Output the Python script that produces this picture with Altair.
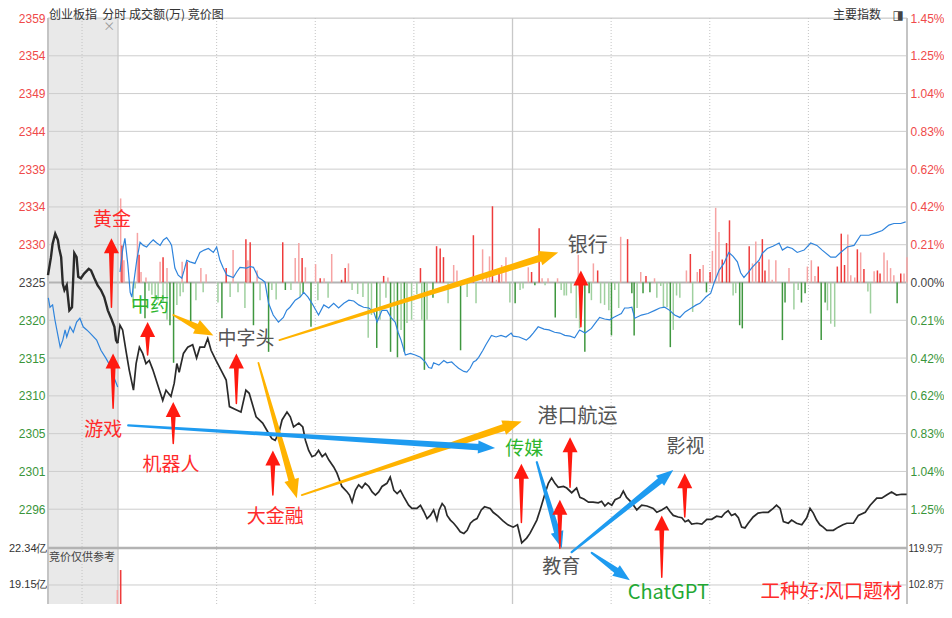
import math
import altair as alt
import pandas as pd

# ---------------- values ----------------
PREV_CLOSE = 2324.76      # 0.00 % line of 创业板指
STEP = 4.828              # one grid step (~0.21 %)

# x = minutes after 9:30 (0..240, 11:30 and 13:00 meet at 120);
# negative minutes = the 9:15-9:25 call-auction strip
X_MIN, X_MAX = -21.3, 240.0
auction_span = [X_MIN, 0.0]

# black line: 创业板指
idx_min = [
    -21.3, -20.4, -19.9, -19.1, -18.3, -17.9, -17.3, -16.8, -16.3, -15.6,
    -14.8, -14.0, -13.3, -12.6, -12.1, -11.3, -10.3, -8.9, -8.2, -7.2,
    -6.2, -5.2, -4.2, -3.1, -2.1, -1.1, -0.6, -0.1,
    0.6, 1.4, 2.4, 3.4, 4.7, 5.5, 6.5, 7.5, 8.5, 9.5,
    10.6, 12.6, 13.6, 14.6, 16.1, 17.1, 17.9, 18.6, 19.9, 21.2,
    22.7, 23.9, 24.9, 26.3, 27.3, 28.3, 29.8, 31.3, 32.9, 33.9,
    35.9, 37.4, 38.9, 39.9, 42.0, 44.0, 45.8, 46.8, 47.8, 48.9,
    49.9, 51.4, 52.4, 53.4, 55.0, 56.2, 57.0, 58.0, 59.0, 60.0,
    61.0, 62.1, 63.1, 64.1, 65.6, 66.6, 68.1, 69.7, 70.4, 71.2,
    72.2, 73.2, 74.2, 75.2, 76.3, 77.3, 78.3, 79.3, 80.3, 81.8,
    82.8, 83.9, 84.9, 85.9, 86.9, 88.4, 89.4, 90.9, 92.0, 93.0,
    94.0, 95.0, 96.0, 97.0, 97.7, 98.6, 99.4, 100.1, 101.1, 102.1,
    103.1, 104.1, 105.2, 106.2, 107.2, 108.2, 109.2, 110.5, 111.5, 113.2,
    114.1, 115.6, 117.1, 118.6, 120.2, 121.5, 122.8, 124.3, 125.3, 126.3,
    127.4, 128.4, 129.9, 130.9, 131.9, 132.9, 133.9, 135.5, 136.5, 138.0,
    139.5, 140.5, 141.7, 143.1, 144.5, 146.1, 147.1, 148.1, 149.1, 150.2,
    151.2, 152.7, 153.7, 154.7, 156.3, 157.8, 159.3, 160.9, 162.8, 163.9,
    165.4, 166.9, 167.9, 168.9, 170.4, 171.5, 172.5, 173.5, 174.5, 176.1,
    177.6, 179.1, 180.6, 182.1, 183.6, 184.6, 185.6, 186.6, 187.7, 188.7,
    189.7, 190.7, 191.7, 193.2, 194.7, 196.3, 197.8, 199.3, 200.3, 201.4,
    202.4, 203.9, 204.9, 206.4, 208.0, 209.5, 210.5, 211.5, 212.5, 213.5,
    214.5, 215.6, 217.6, 219.1, 220.5, 221.7, 223.7, 225.2, 227.3, 228.8,
    230.8, 232.3, 233.8, 235.3, 236.8, 238.4, 239.9,
]
idx_val = [
    2325.7, 2328.0, 2329.7, 2331.0, 2330.2, 2329.1, 2328.0, 2324.6, 2323.8, 2324.4,
    2321.2, 2321.6, 2328.5, 2328.0, 2325.5, 2325.3, 2325.9, 2326.5, 2326.3, 2325.3,
    2324.4, 2323.8, 2322.9, 2321.2, 2320.2, 2319.1, 2317.4, 2317.0,
    2319.3, 2318.7, 2316.1, 2313.6, 2311.0, 2314.4, 2316.5, 2315.7, 2314.4, 2314.8,
    2313.6, 2311.0, 2309.7, 2311.0, 2310.2, 2311.9, 2314.4, 2313.3, 2315.7, 2316.5,
    2316.8, 2315.1, 2316.5, 2316.5, 2317.6, 2316.1, 2314.8, 2313.6, 2312.3, 2308.9,
    2308.5, 2308.2, 2311.0, 2310.6, 2307.6, 2306.8, 2305.5, 2304.8, 2304.6, 2305.5,
    2307.2, 2308.2, 2307.6, 2306.3, 2306.8, 2306.3, 2304.6, 2303.3, 2302.5, 2302.7,
    2303.3, 2302.5, 2302.9, 2302.1, 2301.2, 2300.4, 2298.7, 2298.0, 2297.6, 2296.7,
    2298.2, 2298.9, 2298.5, 2299.1, 2298.7, 2298.0, 2297.6, 2298.0, 2298.7, 2299.1,
    2299.9, 2298.2, 2297.8, 2298.2, 2297.4, 2296.3, 2295.9, 2295.9, 2296.3, 2295.5,
    2294.6, 2295.0, 2295.7, 2294.4, 2295.7, 2296.5, 2296.1, 2295.0, 2294.4, 2294.0,
    2293.5, 2292.9, 2292.7, 2293.1, 2294.0, 2294.4, 2294.6, 2295.7, 2296.1, 2295.9,
    2295.4, 2294.9, 2294.3, 2293.8, 2293.5, 2293.8, 2291.5, 2292.1, 2292.7, 2293.5,
    2294.4, 2295.7, 2297.8, 2299.1, 2299.8, 2299.1, 2298.6, 2298.7, 2298.5, 2297.9,
    2298.5, 2297.3, 2297.1, 2296.7, 2296.7, 2296.6, 2296.8, 2296.2, 2296.6, 2296.3,
    2297.0, 2297.3, 2298.1, 2297.3, 2296.6, 2295.7, 2296.3, 2296.2, 2295.9, 2295.4,
    2295.7, 2296.1, 2295.5, 2295.0, 2294.8, 2294.7, 2294.2, 2294.4, 2293.9, 2294.0,
    2293.9, 2294.5, 2294.5, 2294.9, 2294.8, 2295.3, 2295.6, 2295.0, 2295.2, 2294.7,
    2293.5, 2293.4, 2294.0, 2294.8, 2295.3, 2295.4, 2295.4, 2295.9, 2296.3, 2295.9,
    2294.2, 2294.0, 2294.4, 2294.0, 2293.8, 2294.7, 2295.9, 2295.3, 2294.4, 2293.8,
    2293.5, 2293.1, 2293.1, 2293.5, 2293.8, 2294.0, 2294.0, 2295.0, 2295.4, 2296.3,
    2297.2, 2297.2, 2297.6, 2298.0, 2297.6, 2297.7, 2297.7,
]

# blue line: overlay index, drawn on the same percentage scale
ovl_min = [
    -21.2, -20.7, -19.9, -19.2, -18.2, -17.6, -16.8, -16.1, -15.6, -14.6,
    -13.6, -12.6, -11.6, -10.6, -9.5, -8.5, -6.5, -5.2, -3.7, -2.1, -1.1, -0.1,
    0.6, 1.4, 2.1, 3.0, 3.7, 4.2, 4.9, 5.7, 6.7, 7.7,
    8.7, 9.7, 10.7, 11.8, 12.8, 13.8, 14.8, 15.8, 16.3, 17.3,
    18.3, 19.4, 20.1, 20.9, 21.9, 23.4, 24.9, 26.2, 27.5, 29.0,
    30.0, 31.0, 32.0, 33.1, 35.1, 36.1, 37.1, 39.1, 40.2, 41.2,
    42.7, 43.8, 44.7, 45.8, 47.2, 48.8, 50.3, 51.3, 52.3, 53.9,
    55.4, 56.5, 57.8, 59.0, 61.0, 62.6, 64.1, 65.6, 67.1, 68.7,
    70.2, 71.7, 73.2, 74.7, 76.3, 77.8, 78.8, 80.3, 81.8, 83.0,
    84.3, 85.2, 86.1, 87.4, 88.9, 90.4, 92.0, 93.5, 94.5, 95.4,
    96.0, 97.6, 99.1, 100.1, 101.5, 102.5, 103.6, 105.2, 106.1, 107.1,
    108.1, 108.9, 109.7, 111.0, 111.9, 113.6, 115.0, 116.5, 118.0, 119.6,
    120.2, 122.0, 124.2, 125.3, 126.3, 127.8, 129.6, 131.1, 132.8, 134.4,
    135.9, 137.5, 138.9, 140.4, 142.1, 144.0, 145.4, 146.5, 148.0, 149.6,
    150.7, 152.2, 153.1, 154.1, 155.2, 156.3, 157.2, 159.2, 161.2, 163.3,
    164.8, 166.3, 167.8, 169.3, 170.9, 172.5, 174.4, 175.9, 177.0, 178.8,
    180.3, 181.3, 182.8, 184.3, 185.8, 187.1, 188.4, 189.4, 190.4, 191.6,
    192.9, 195.0, 196.0, 197.5, 199.2, 201.1, 202.1, 203.6, 205.1, 206.6,
    208.7, 210.7, 212.6, 214.2, 216.8, 218.3, 219.8, 221.8, 223.9, 225.9,
    228.4, 230.5, 232.5, 234.5, 236.0, 238.1, 239.6,
]
ovl_val = [
    2322.8, 2321.6, 2321.9, 2320.0, 2317.8, 2316.5, 2317.4, 2318.7, 2317.8, 2319.1,
    2318.4, 2319.7, 2320.2, 2319.1, 2318.7, 2318.3, 2317.4, 2316.1, 2315.1, 2313.9, 2312.5, 2311.4,
    2326.1, 2328.9, 2330.4, 2327.0, 2323.5, 2322.9, 2325.1, 2327.6, 2329.9, 2329.5,
    2329.3, 2329.8, 2330.2, 2329.8, 2329.5, 2330.2, 2330.5, 2329.9, 2329.5, 2326.6,
    2325.7, 2325.3, 2326.3, 2327.6, 2327.4, 2327.2, 2328.6, 2328.9, 2329.1, 2328.6,
    2329.3, 2327.6, 2326.6, 2325.7, 2325.4, 2326.1, 2326.7, 2326.6, 2326.8, 2326.7,
    2325.4, 2325.1, 2324.8, 2322.1, 2320.6, 2319.7, 2320.3, 2321.2, 2321.6, 2322.5,
    2322.9, 2323.5, 2322.9, 2322.1, 2320.6, 2321.9, 2321.5, 2322.1, 2321.5, 2322.1,
    2322.5, 2322.4, 2321.9, 2321.6, 2321.5, 2321.0, 2319.7, 2321.2, 2321.2, 2320.3,
    2319.7, 2318.4, 2317.4, 2315.5, 2315.7, 2315.5, 2315.2, 2314.6, 2313.9, 2313.8,
    2314.5, 2314.2, 2314.8, 2314.5, 2314.6, 2314.2, 2313.8, 2313.4, 2313.3, 2313.8,
    2314.6, 2314.8, 2315.2, 2316.1, 2316.8, 2318.0, 2317.8, 2318.0, 2317.8, 2318.3,
    2317.9, 2317.8, 2317.4, 2317.8, 2318.3, 2319.1, 2318.8, 2318.7, 2318.4, 2318.3,
    2318.0, 2317.9, 2317.7, 2318.7, 2318.3, 2318.9, 2319.7, 2320.3, 2320.1, 2320.0,
    2320.3, 2320.6, 2320.8, 2321.5, 2321.5, 2321.6, 2320.2, 2320.6, 2320.8, 2321.2,
    2321.5, 2321.6, 2321.2, 2320.6, 2320.3, 2321.0, 2321.5, 2321.9, 2322.1, 2322.9,
    2323.4, 2324.7, 2326.3, 2327.2, 2328.6, 2328.1, 2327.4, 2326.0, 2325.4, 2326.0,
    2326.7, 2327.6, 2328.5, 2329.1, 2329.4, 2329.8, 2328.9, 2329.3, 2329.1, 2328.6,
    2328.9, 2329.8, 2329.5, 2328.9, 2328.0, 2328.0, 2328.6, 2329.3, 2329.5, 2330.8,
    2330.8, 2331.1, 2331.4, 2332.1, 2332.3, 2332.3, 2332.5,
]

# red bars above the 0 % line (tone: d = dark, l = light)
up_min = [0.8, 1.2, 1.8, 5.9, 6.4, 7.0, 8.5, 12.8, 13.7, 14.9, 19.5, 21.0, 25.2, 26.8, 32.9,
          35.0, 38.9, 39.5, 40.2, 42.3, 50.1, 53.9, 55.0, 56.0, 57.0, 60.1, 61.5, 62.7, 65.0,
          68.0, 69.1, 70.1, 80.8, 82.1, 92.0, 96.9, 98.0, 99.0, 102.1, 103.1, 108.1, 110.9,
          112.1, 113.0, 113.9, 115.1, 115.9, 116.7, 118.0, 124.8, 125.8, 128.1, 129.0, 130.8,
          133.7, 140.0, 144.6, 145.9, 152.9, 155.0, 159.0, 160.6, 163.2, 172.9, 174.1, 176.2,
          177.0, 178.0, 180.1, 180.8, 181.8, 182.8, 183.8, 185.1, 186.0, 192.0, 193.0, 194.0,
          195.0, 196.0, 196.8, 198.0, 199.0, 200.1, 204.1, 209.7, 210.9, 212.0, 213.0, 218.8,
          220.0, 221.0, 222.0, 222.9, 224.1, 224.9, 225.9, 226.9, 230.0, 231.0, 231.8, 233.0,
          234.0, 235.0, 236.0, 238.1, 239.1, 240.0]
up_val = [2335.5, 2329.5, 2327.6, 2331.1, 2328.3, 2326.1, 2325.4, 2327.4, 2328.0, 2326.6, 2327.4,
          2327.4, 2326.6, 2325.8, 2326.6, 2328.9, 2330.3, 2327.6, 2329.9, 2326.3, 2329.9, 2327.9,
          2329.8, 2327.9, 2326.7, 2327.1, 2325.3, 2325.3, 2328.4, 2325.1, 2326.6, 2327.2, 2325.6,
          2325.4, 2326.6, 2329.4, 2329.1, 2328.0, 2327.0, 2326.3, 2330.8, 2329.0, 2325.7, 2328.1,
          2334.5, 2325.1, 2326.3, 2327.0, 2328.0, 2326.7, 2326.1, 2331.7, 2325.3, 2325.3, 2325.3,
          2328.3, 2327.2, 2326.3, 2330.6, 2330.3, 2326.1, 2325.6, 2325.3, 2326.3, 2328.4, 2326.1,
          2326.5, 2327.0, 2326.1, 2328.8, 2334.3, 2331.2, 2327.7, 2329.8, 2332.7, 2329.4, 2327.2,
          2330.0, 2327.4, 2330.3, 2326.3, 2327.7, 2325.1, 2327.6, 2326.6, 2326.8, 2327.6, 2325.6,
          2326.8, 2326.8, 2331.0, 2327.0, 2330.9, 2325.7, 2325.4, 2329.0, 2328.6, 2326.5, 2326.2,
          2326.3, 2325.9, 2328.6, 2327.6, 2326.6, 2325.7, 2325.9, 2325.9, 2328.0]
up_tone = list("ldlldllldl" "ldlldldldl" "dlldlldlld" "dldlddddll" "dllldldlll"
               "ddllllldld" "ldlldldldl" "llddddlldd" "dllllllldd" "ddllldldld" "dlllldll")

# green bars below the 0 % line
dn_min = [4.6, 5.2, 8.2, 9.4, 10.3, 11.3, 12.2, 13.7, 14.9, 15.8, 16.9, 17.9, 18.9, 19.8, 22.1,
          23.7, 25.9, 30.4, 31.6, 34.1, 36.5, 38.6, 41.2, 43.2, 45.8, 46.8, 48.1, 50.9, 52.6,
          55.4, 56.3, 58.7, 60.8, 63.9, 71.2, 72.9, 74.5, 76.1, 77.1, 78.7, 79.7, 81.5, 82.9,
          84.0, 85.0, 86.1, 87.1, 87.9, 89.3, 90.9, 92.4, 93.2, 94.0, 95.8, 100.4, 104.2, 106.2,
          108.9, 119.2, 120.8, 122.3, 123.2, 126.8, 129.9, 133.0, 134.8, 135.7, 136.4, 137.8,
          139.4, 140.4, 142.0, 143.3, 144.0, 146.8, 148.0, 149.3, 150.1, 151.1, 152.3, 156.3,
          157.0, 157.9, 159.7, 161.8, 163.9, 165.1, 165.9, 167.0, 168.0, 168.9, 169.9, 170.9,
          174.8, 179.0, 187.1, 187.9, 189.1, 189.9, 202.1, 202.9, 205.6, 206.9, 207.9, 209.0,
          213.9, 215.1, 215.8, 216.8, 218.0, 228.1, 228.9, 237.0]
dn_val = [2322.2, 2324.0, 2320.2, 2323.7, 2323.2, 2322.5, 2322.5, 2322.2, 2320.0, 2319.3, 2314.5,
          2321.9, 2323.0, 2323.5, 2319.7, 2322.5, 2323.5, 2322.2, 2320.2, 2322.9, 2323.5, 2321.5,
          2319.3, 2322.5, 2315.9, 2323.8, 2322.6, 2323.8, 2323.8, 2322.9, 2323.4, 2319.1, 2322.5,
          2322.8, 2323.8, 2323.3, 2322.9, 2317.7, 2320.6, 2316.4, 2320.0, 2322.8, 2315.9, 2320.0,
          2315.2, 2318.7, 2315.9, 2319.6, 2320.0, 2323.3, 2320.0, 2313.6, 2320.0, 2322.8, 2322.1,
          2316.1, 2322.9, 2322.1, 2322.2, 2322.1, 2323.8, 2324.0, 2324.4, 2324.4, 2320.3, 2323.8,
          2323.1, 2323.1, 2323.4, 2320.2, 2318.9, 2315.9, 2323.4, 2322.5, 2322.1, 2321.9, 2321.2,
          2318.0, 2323.8, 2321.5, 2323.4, 2318.0, 2321.5, 2323.4, 2323.5, 2322.8, 2324.3, 2321.6,
          2321.6, 2316.5, 2318.7, 2323.1, 2322.8, 2321.0, 2323.5, 2323.1, 2323.4, 2319.3, 2318.9,
          2317.4, 2322.2, 2321.3, 2323.8, 2322.2, 2323.4, 2317.4, 2322.2, 2321.2, 2319.5, 2319.1,
          2323.6, 2320.8, 2322.1]
dn_tone = list("lldlllllld" "dllldllldl" "lldldlldll" "ddllllllld" "lldldldlll" "ldldldllld"
               "lldldlllll" "lddlllldll" "ddlddlllld" "lllldllddd" "dllddddlll" "lld")

# volume panel (auction bars only reach into the visible strip)
vol_min = [-0.2, 0.8]
vol_yi = [18.72, 20.44]
vol_dir = ["dn", "up"]
vol_yi_ticks = [22.34, 19.15]
vol_wan_ticks = [119.9, 102.8]

# vertical guides (minutes)
vgrid_dot = [-10.95, 30, 60, 90, 150, 180, 210]
vgrid_solid = [0.0, 120.0]
vgrid_edge = [X_MIN, X_MAX]

# annotation labels (anchor in minutes / index points)
ann_text = ["黄金", "中药", "中字头", "游戏", "机器人", "大金融", "银行", "港口航运",
            "传媒", "影视", "教育", "ChatGPT", "工种好:风口题材"]
ann_min = [-1.8, 9.7, 38.9, -4.5, 16.1, 47.8, 142.9, 139.8, 123.6, 172.6, 134.8, 167.4, 217.0]
ann_val = [2332.8, 2321.7, 2317.5, 2305.9, 2301.4, 2294.8, 2329.4, 2307.6, 2303.5, 2303.8,
           2288.4, 2285.1, 2285.2]

# header texts (anchor in minutes / index points, just above the top grid line)
hdr_text = ["创业板指\u00a0\u00a0分时 成交额(万) 竞价图", "主要指数", "◨"]
hdr_min = [-21.0, 224.8, 237.3]
hdr_val = [2359.0, 2359.0, 2359.0]

# arrows: tail -> tip
red_tail_min = [-2.0, -1.5, 9.0, 16.8, 36.0, 47.1, 140.8, 122.7, 137.5, 134.4, 172.4, 165.4]
red_tail_val = [2321.6, 2308.7, 2315.5, 2304.2, 2309.3, 2297.6, 2319.1, 2294.1, 2298.6, 2290.8,
                2294.8, 2287.1]
red_tip_min = [-2.0, -1.5, 9.0, 16.8, 36.0, 47.1, 140.8, 122.7, 137.5, 134.4, 172.4, 165.4]
red_tip_val = [2330.4, 2315.7, 2319.7, 2309.5, 2315.7, 2303.3, 2326.3, 2301.6, 2305.0, 2297.0,
               2300.4, 2295.0]
yel_tail_min = [16.8, 49.1, 42.7, 55.9]
yel_tail_val = [2320.6, 2317.4, 2314.5, 2297.6]
yel_tip_min = [29.0, 133.9, 54.4, 122.8]
yel_tip_val = [2318.0, 2328.6, 2297.2, 2307.0]
blu_tail_min = [3.1, 127.4, 138.0, 144.1]
blu_tail_val = [2306.5, 2301.8, 2290.3, 2290.2]
blu_tip_min = [114.7, 135.0, 168.9, 155.7]
blu_tip_val = [2303.6, 2290.8, 2300.8, 2286.7]

assert len(idx_min) == len(idx_val)
assert len(ovl_min) == len(ovl_val)
assert len(up_min) == len(up_val) == len(up_tone)
assert len(dn_min) == len(dn_val) == len(dn_tone)

# ---------------- layout / style ----------------
W, H = 859, 586
PRICE_LO = PREV_CLOSE - 7 * STEP
PRICE_HI = PREV_CLOSE + 7 * STEP
PRICE_PX = 529
VOL_TOP_PX, VOL_ZERO_PX = 530, 789
PX_PER_MIN = W / (X_MAX - X_MIN)
PX_PER_PT = PRICE_PX / (PRICE_HI - PRICE_LO)

CJK = "Noto Sans CJK SC"
LAT = "Liberation Sans"
RED, GREEN, GRAY = "#ff2b2b", "#2db52d", "#555555"
ann_color = {"黄金": RED, "中药": GREEN, "中字头": GRAY, "游戏": RED, "机器人": RED,
             "大金融": RED, "银行": GRAY, "港口航运": GRAY, "传媒": GREEN, "影视": GRAY,
             "教育": GRAY, "ChatGPT": "#22a833", "工种好:风口题材": RED}
ann_size = {"银行": 20, "港口航运": 20, "ChatGPT": 20, "工种好:风口题材": 19.5}

x_scale = alt.Scale(domain=[X_MIN, X_MAX], nice=False, zero=False)
price_scale = alt.Scale(domain=[PRICE_LO, PRICE_HI], range=[PRICE_PX, 0], nice=False, zero=False)
yi_scale = alt.Scale(domain=[0, 22.34], range=[VOL_ZERO_PX, VOL_TOP_PX], nice=False, zero=False)
wan_scale = alt.Scale(domain=[0, 119.9], range=[VOL_ZERO_PX, VOL_TOP_PX], nice=False, zero=False)


def X(f="m"):
    return alt.X(f"{f}:Q", scale=x_scale, axis=None)


def YP(f="p"):
    return alt.Y(f"{f}:Q", scale=price_scale, axis=None)


layers = []

# auction shading
layers.append(
    alt.Chart(pd.DataFrame({"m": [auction_span[0]], "m2": [auction_span[1]]}))
    .mark_rect(color="#e9e9e9")
    .encode(x=X(), x2="m2:Q")
)

# horizontal grid
grid_prices = [PREV_CLOSE + k * STEP for k in range(-6, 8) if k != 0]
layers.append(alt.Chart(pd.DataFrame({"p": grid_prices})).mark_rule(color="#cdcdcd", strokeWidth=1)
              .encode(y=YP()))
layers.append(alt.Chart(pd.DataFrame({"p": [PREV_CLOSE]})).mark_rule(color="#b3b3b3", strokeWidth=2)
              .encode(y=YP()))
layers.append(alt.Chart(pd.DataFrame({"v": [vol_yi_ticks[1]]})).mark_rule(color="#cdcdcd", strokeWidth=1)
              .encode(y=alt.Y("v:Q", scale=yi_scale, axis=None)))

# vertical guides
layers.append(alt.Chart(pd.DataFrame({"m": vgrid_dot}))
              .mark_rule(color="#c4c4c4", strokeWidth=1, strokeDash=[1, 2]).encode(x=X()))
layers.append(alt.Chart(pd.DataFrame({"m": vgrid_solid}))
              .mark_rule(color="#c8c8c8", strokeWidth=1.3).encode(x=X()))
layers.append(alt.Chart(pd.DataFrame({"m": vgrid_edge}))
              .mark_rule(color="#c4c4c4", strokeWidth=2).encode(x=X()))

# red / green bars around the 0 % line
bars = pd.concat([
    pd.DataFrame({"m": up_min, "p": up_val, "k": ["up_" + t for t in up_tone]}),
    pd.DataFrame({"m": dn_min, "p": dn_val, "k": ["dn_" + t for t in dn_tone]}),
])
bars["base"] = PREV_CLOSE
layers.append(
    alt.Chart(bars).mark_rule(strokeWidth=1.5).encode(
        x=X(), y=YP(), y2="base:Q",
        color=alt.Color("k:N", legend=None, scale=alt.Scale(
            domain=["up_d", "up_l", "dn_d", "dn_l"],
            range=["#ee3b3b", "#f6a3a3", "#3f973f", "#9fd09f"])),
    )
)

# separator between price and volume panels
layers.append(alt.Chart(pd.DataFrame({"v": [vol_yi_ticks[0]]})).mark_rule(color="#b3b3b3", strokeWidth=2.5)
              .encode(y=alt.Y("v:Q", scale=yi_scale, axis=None)))

# blue overlay line
ovl = pd.DataFrame({"m": ovl_min, "p": ovl_val})
ovl["seg"] = ["auction" if v < 0 else "trade" for v in ovl["m"]]
layers.append(alt.Chart(ovl).mark_line(color="#2f84dc", strokeWidth=1.2)
              .encode(x=X(), y=YP(), detail="seg:N", order="m:Q"))

# black index line
idx = pd.DataFrame({"m": idx_min, "p": idx_val})
layers.append(alt.Chart(idx).transform_filter("datum.m <= -0.1").mark_line(color="#2a2a2a", strokeWidth=2.4)
              .encode(x=X(), y=YP(), order="m:Q"))
layers.append(alt.Chart(idx).transform_filter("datum.m >= -0.1").mark_line(color="#2a2a2a", strokeWidth=1.7)
              .encode(x=X(), y=YP(), order="m:Q"))

# volume bars (call auction)
vol = pd.DataFrame({"m": vol_min, "v": vol_yi, "d": vol_dir, "z": 0.0})
layers.append(
    alt.Chart(vol).mark_rule(strokeWidth=1.6).encode(
        x=X(), y=alt.Y("v:Q", scale=yi_scale, axis=None), y2="z:Q",
        color=alt.Color("d:N", legend=None, scale=alt.Scale(domain=["up", "dn"], range=["#ee3b3b", "#3f973f"])),
    )
)

# axes (invisible carrier layers)
ticks = [PREV_CLOSE + k * STEP for k in range(-6, 8)]
color_expr = (f"datum.value > {PREV_CLOSE + 0.05} ? '#ef4a4a' : "
              f"(datum.value < {PREV_CLOSE - 0.05} ? '#3a953a' : '#444444')")
layers.append(
    alt.Chart(pd.DataFrame({"p": ticks})).mark_rule(opacity=0).encode(
        y=alt.Y("p:Q", scale=price_scale, axis=alt.Axis(
            orient="left", values=ticks, format=".0f", title=None, domain=False, ticks=False,
            grid=False, labelFont=LAT, labelFontSize=12, labelPadding=3,
            labelColor={"expr": color_expr}, labelOverlap=False)))
)
layers.append(
    alt.Chart(pd.DataFrame({"p": ticks})).mark_rule(opacity=0).encode(
        y=alt.Y("p:Q", scale=price_scale, axis=alt.Axis(
            orient="right", values=ticks, title=None, domain=False, ticks=False, grid=False,
            labelExpr=f"format(abs(datum.value - {PREV_CLOSE}) / {PREV_CLOSE} * 100, '.2f') + '%'",
            labelFont=LAT, labelFontSize=12, labelPadding=3,
            labelColor={"expr": color_expr}, labelOverlap=False)))
)
layers.append(
    alt.Chart(pd.DataFrame({"v": vol_yi_ticks})).mark_rule(opacity=0).encode(
        y=alt.Y("v:Q", scale=yi_scale, axis=alt.Axis(
            orient="left", values=vol_yi_ticks, title=None, domain=False, ticks=False, grid=False,
            labelExpr="format(datum.value, '.2f') + '亿'", labelFont=LAT, labelFontSize=11,
            labelPadding=1, labelColor="#333333", labelOverlap=False)))
)
layers.append(
    alt.Chart(pd.DataFrame({"v": vol_wan_ticks})).mark_rule(opacity=0).encode(
        y=alt.Y("v:Q", scale=wan_scale, axis=alt.Axis(
            orient="right", values=vol_wan_ticks, title=None, domain=False, ticks=False, grid=False,
            labelExpr="format(datum.value, '.1f') + '万'", labelFont=LAT, labelFontSize=10,
            labelPadding=1, labelColor="#333333", labelOverlap=False)))
)


# arrows: tapered trail shaft + triangular head
def arrow_frames(t_min, t_val, h_min, h_val, w0, w1, head_len):
    shafts, heads = [], []
    for i, (m0, p0, m1, p1) in enumerate(zip(t_min, t_val, h_min, h_val)):
        dx = (m1 - m0) * PX_PER_MIN
        dy = -(p1 - p0) * PX_PER_PT
        ln = math.hypot(dx, dy)
        ux, uy = dx / ln, dy / ln
        back = head_len * 0.85
        bm = m1 - back * ux / PX_PER_MIN
        bp = p1 + back * uy / PX_PER_PT
        shafts.append({"id": i, "o": 0, "m": m0, "p": p0, "w": w0})
        shafts.append({"id": i, "o": 1, "m": bm, "p": bp, "w": w1})
        heads.append({"id": i, "m": m1, "p": p1, "a": math.degrees(math.atan2(ux, -uy)) % 360})
    return pd.DataFrame(shafts), pd.DataFrame(heads)


def arrow_layers(frames, color, head_len, head_w):
    shafts, heads = frames
    a = head_w / (2 * head_len)
    shape = f"M0,0L{a:.3f},1L-{a:.3f},1Z"
    return [
        alt.Chart(shafts).mark_trail(color=color).encode(
            x=X(), y=YP(), size=alt.Size("w:Q", scale=None, legend=None),
            detail="id:N", order="o:Q"),
        alt.Chart(heads).mark_point(shape=shape, filled=True, opacity=1, strokeWidth=0, color=color).encode(
            x=X(), y=YP(), angle=alt.Angle("a:Q", scale=None), size=alt.value((2 * head_len) ** 2)),
    ]


layers += arrow_layers(arrow_frames(yel_tail_min, yel_tail_val, yel_tip_min, yel_tip_val, 1.8, 7, 19),
                       "#ffb300", 19, 15)
layers += arrow_layers(arrow_frames(blu_tail_min, blu_tail_val, blu_tip_min, blu_tip_val, 2.2, 6.5, 17),
                       "#1e9bf0", 17, 13)
layers += arrow_layers(arrow_frames(red_tail_min, red_tail_val, red_tip_min, red_tip_val, 1.5, 5, 15),
                       "#ff1a10", 15, 15)

# annotation labels
ann = pd.DataFrame({"t": ann_text, "m": ann_min, "p": ann_val})
ann["c"] = [ann_color[t] for t in ann_text]
ann["fs"] = [ann_size.get(t, 19) for t in ann_text]
layers.append(
    alt.Chart(ann).mark_text(font=CJK, baseline="middle", align="center").encode(
        x=X(), y=YP(), text="t:N", color=alt.Color("c:N", scale=None),
        size=alt.Size("fs:Q", scale=None))
)

# header + window chrome texts
hdr = pd.DataFrame({"t": hdr_text, "m": hdr_min, "p": hdr_val})
layers.append(
    alt.Chart(hdr.iloc[[0]]).mark_text(font=CJK, baseline="middle", align="left", fontSize=12,
                                       color="#333333").encode(x=X(), y=YP(), text="t:N")
)
layers.append(
    alt.Chart(hdr.iloc[[1]]).mark_text(font=CJK, baseline="middle", align="center", fontSize=12,
                                       color="#333333").encode(x=X(), y=YP(), text="t:N")
)
layers.append(
    alt.Chart(hdr.iloc[[2]]).mark_text(font="DejaVu Sans", baseline="middle", align="center", fontSize=12,
                                       color="#444444").encode(x=X(), y=YP(), text="t:N")
)
layers.append(
    alt.Chart(pd.DataFrame({"t": ["×"], "m": [-2.7], "p": [2357.4]}))
    .mark_text(font=CJK, baseline="middle", align="center", fontSize=12, color="#9a9a9a")
    .encode(x=X(), y=YP(), text="t:N")
)
layers.append(
    alt.Chart(pd.DataFrame({"t": ["竞价仅供参考"], "m": [-21.0], "p": [2289.5]}))
    .mark_text(font=CJK, baseline="middle", align="left", fontSize=11, color="#444444")
    .encode(x=X(), y=YP(), text="t:N")
)

chart = (
    alt.layer(*layers)
    .resolve_scale(y="independent")
    .properties(
        width=W, height=H,
        padding={"left": 40, "top": 10, "right": 37, "bottom": 0},
        autosize=alt.AutoSizeParams(type="none"),
    )
    .configure_view(stroke=None)
    .configure(background="#ffffff")
)

chart.save("out.html", embed_options={"renderer": "svg", "actions": False})
